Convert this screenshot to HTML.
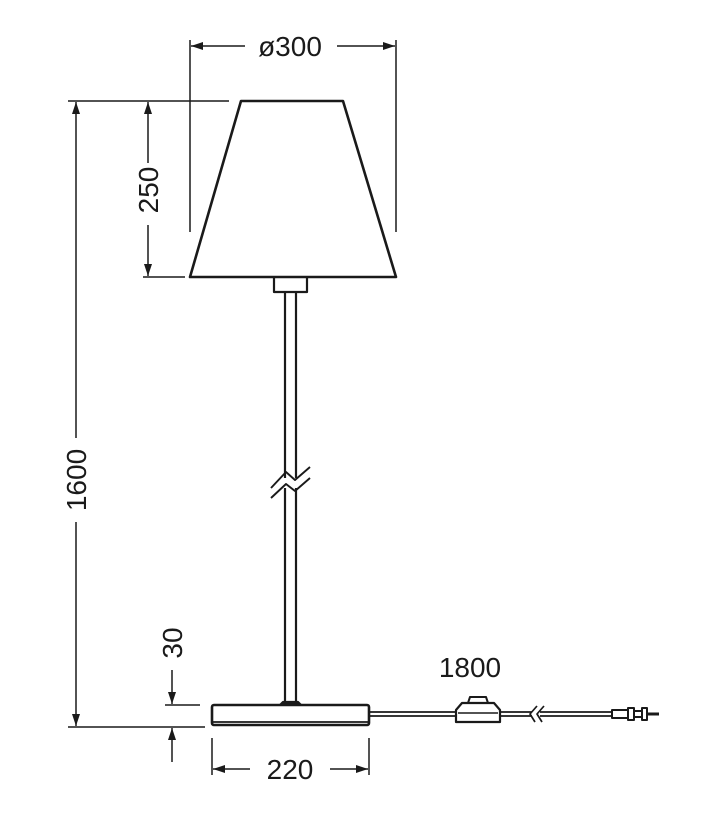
<!DOCTYPE html>
<html><head><meta charset="utf-8"><style>
html,body{margin:0;padding:0;background:#fff;}
svg{display:block;}
text{font-family:"Liberation Sans",sans-serif;fill:#1a1a1a;}
</style></head><body>
<svg width="702" height="817" viewBox="0 0 702 817" xmlns="http://www.w3.org/2000/svg">
<defs>
<marker id="a" viewBox="0 0 12 8" refX="12" refY="4" markerWidth="12" markerHeight="8" markerUnits="userSpaceOnUse" orient="auto">
<path d="M0,0 L12,4 L0,8 z" fill="#1a1a1a"/></marker>
</defs>
<g stroke="#1a1a1a" fill="none" stroke-width="1.5">
<line x1="190" y1="40" x2="190" y2="232"/>
<line x1="396" y1="40" x2="396" y2="232"/>
<line x1="245" y1="46" x2="191" y2="46" marker-end="url(#a)"/>
<line x1="337" y1="46" x2="395" y2="46" marker-end="url(#a)"/>
<line x1="68" y1="101" x2="229" y2="101"/>
<line x1="148" y1="163" x2="148" y2="102" marker-end="url(#a)"/>
<line x1="148" y1="225" x2="148" y2="276" marker-end="url(#a)"/>
<line x1="143" y1="277" x2="185" y2="277"/>
<line x1="76" y1="438" x2="76" y2="102" marker-end="url(#a)"/>
<line x1="76" y1="522" x2="76" y2="726" marker-end="url(#a)"/>
<line x1="68" y1="727" x2="205" y2="727"/>
<line x1="172" y1="670" x2="172" y2="704" marker-end="url(#a)"/>
<line x1="172" y1="762" x2="172" y2="728" marker-end="url(#a)"/>
<line x1="165" y1="705" x2="200" y2="705"/>
<line x1="212" y1="738" x2="212" y2="775"/>
<line x1="369" y1="738" x2="369" y2="775"/>
<line x1="250" y1="769" x2="213" y2="769" marker-end="url(#a)"/>
<line x1="330" y1="769" x2="368" y2="769" marker-end="url(#a)"/>
</g>
<g stroke="#1a1a1a" fill="none" stroke-width="2.2" stroke-linejoin="round">
<path d="M241,101 L343,101 L396,277 L190,277 Z" fill="#fff" stroke-width="2.6"/>
<path d="M274,278 L274,292 L307,292 L307,278" stroke-width="2.2"/>
<line x1="285" y1="292" x2="285" y2="478"/>
<line x1="296" y1="292" x2="296" y2="478"/>
<line x1="285" y1="488" x2="285" y2="703"/>
<line x1="296" y1="488" x2="296" y2="703"/>
<path d="M271,488 L286,472 L295,480 L310,467" stroke-width="1.9"/>
<path d="M271,498 L286,484 L295,491 L310,478" stroke-width="1.9"/>
<path d="M283,702 L298,702 L301,705 L280,705 Z" fill="#1a1a1a"/>
<rect x="212" y="705" width="157" height="20" rx="2" fill="#fff" stroke-width="2.6"/>
<line x1="213" y1="722" x2="368" y2="722" stroke-width="1.8"/>
<line x1="369" y1="712" x2="458" y2="712" stroke-width="1.7"/>
<line x1="369" y1="716" x2="458" y2="716" stroke-width="1.7"/>
<line x1="499" y1="712" x2="532" y2="712" stroke-width="1.7"/>
<line x1="499" y1="716" x2="532" y2="716" stroke-width="1.7"/>
<line x1="540" y1="712" x2="612" y2="712" stroke-width="1.7"/>
<line x1="540" y1="716" x2="612" y2="716" stroke-width="1.7"/>
<path d="M537,706 L530,714 L535,722" stroke-width="1.7"/>
<path d="M544,706 L537,714 L542,722" stroke-width="1.7"/>
<path d="M470,697 L486,697 L488,703 L468,703 Z" fill="#fff" stroke-width="2"/>
<path d="M462,703 L494,703 L500,710 L500,722 L456,722 L456,710 Z" fill="#fff" stroke-width="2.2"/>
<line x1="458" y1="713" x2="498" y2="713" stroke-width="1.6"/>
<rect x="612" y="710" width="16" height="8" fill="#fff" stroke-width="2"/>
<rect x="628" y="708" width="6" height="12" fill="#fff" stroke-width="2"/>
<rect x="634" y="711" width="8" height="6" fill="#fff" stroke-width="2"/>
<rect x="642" y="708" width="5" height="12" fill="#fff" stroke-width="2"/>
<line x1="647" y1="714" x2="659" y2="714" stroke-width="3"/>
</g>
<g font-size="28">
<text x="290" y="56" text-anchor="middle">ø300</text>
<text x="470" y="677" text-anchor="middle">1800</text>
<text x="290" y="779" text-anchor="middle">220</text>
<text transform="translate(158,190) rotate(-90)" text-anchor="middle">250</text>
<text transform="translate(86,480) rotate(-90)" text-anchor="middle">1600</text>
<text transform="translate(182,643) rotate(-90)" text-anchor="middle">30</text>
</g>
</svg>
</body></html>
